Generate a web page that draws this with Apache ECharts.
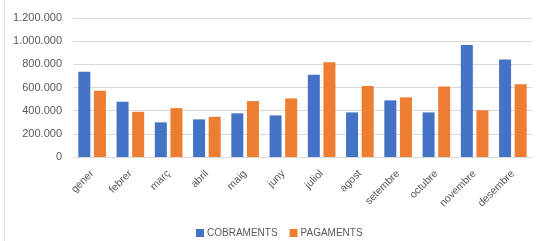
<!DOCTYPE html>
<html>
<head>
<meta charset="utf-8">
<script src="https://cdn.jsdelivr.net/npm/echarts@6/dist/echarts.min.js"></script>
<style>
html,body{margin:0;padding:0;background:#fff;}
#c{width:536px;height:241px;}
</style>
</head>
<body>
<div id="c"></div>
<script>
const months = ['gener','febrer','març','abril','maig','juny','juliol','agost','setembre','octubre','novembre','desembre'];
const cobraments = [735000, 477000, 299000, 325000, 377000, 359000, 709000, 385000, 489000, 385000, 966000, 842000];
const pagaments = [571000, 390000, 422000, 347000, 483000, 506000, 819000, 612000, 515000, 609000, 403000, 629000];
const seriesNames = ['COBRAMENTS', 'PAGAMENTS'];

function fmt(v){
  return String(v).replace(/\B(?=(\d{3})+(?!\d))/g, '.');
}

const chart = echarts.init(document.getElementById('c'), null, {renderer:'canvas'});
const textColor = '#595959';
const font = '"Liberation Sans", Arial, sans-serif';
chart.setOption({
  animation:false,
  textStyle:{fontFamily:font},
  grid:{left:73, right:4, top:18, bottom:84, containLabel:false},
  legend:{
    data:seriesNames,
    top:223,
    left:191,
    itemWidth:8, itemHeight:8, itemGap:12,
    icon:'rect',
    textStyle:{color:textColor, fontSize:10, fontFamily:font, padding:[0,0,0,-2]}
  },
  xAxis:{
    type:'category',
    data:months,
    axisLine:{lineStyle:{color:'#d9d9d9', width:1}},
    axisTick:{show:false},
    axisLabel:{rotate:45, color:textColor, fontSize:10.5, margin:15, interval:0, fontFamily:font}
  },
  yAxis:{
    type:'value',
    min:0, max:1200000, interval:200000,
    axisLine:{show:false},
    axisTick:{show:false},
    splitLine:{lineStyle:{color:'#d9d9d9', width:1}},
    axisLabel:{color:textColor, fontSize:11, margin:11, formatter:fmt, fontFamily:font}
  },
  graphic:[{
    type:'line', shape:{x1:4.5, y1:0, x2:4.5, y2:241},
    style:{stroke:'#d9d9d9', lineWidth:1}
  }],
  series:[
    {name:seriesNames[0], type:'bar', data:cobraments, barWidth:12, barGap:'30%',
     itemStyle:{color:'#4472C4'}},
    {name:seriesNames[1], type:'bar', data:pagaments, barWidth:12, barGap:'30%',
     itemStyle:{color:'#ED7D31'}}
  ]
});
</script>
</body>
</html>
